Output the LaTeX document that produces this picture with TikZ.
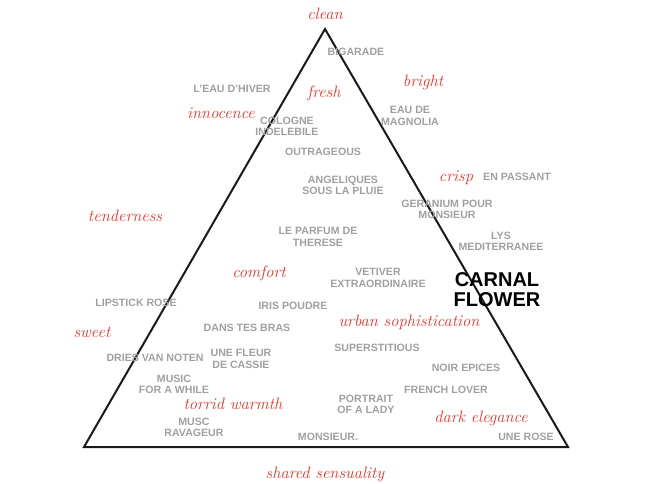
\documentclass[tikz,border=0pt]{standalone}
\usepackage{fontspec}
\newfontfamily\grot{Liberation Sans}
\definecolor{wordred}{RGB}{232,52,42}
\definecolor{wordgrey}{RGB}{160,160,160}
\tikzset{
  perfume/.style={inner sep=0pt, align=center, text=wordgrey,
    font=\grot\bfseries\fontsize{10.6}{11.2}\selectfont},
  mood/.style={inner sep=0pt, anchor=base, text=wordred,
    font=\itshape\fontsize{16.5}{18}\selectfont},
  hero/.style={inner sep=0pt, align=center, text=black,
    font=\grot\bfseries\fontsize{20}{20}\selectfont},
  edge/.style={line width=2pt, line join=miter, draw=black!90}
}
\begin{document}
\begin{tikzpicture}[x=1pt,y=-1pt]
\useasboundingbox (0,0) rectangle (650,484);
\coordinate (top) at (325,29);
\coordinate (bl) at (84,447);
\coordinate (br) at (568,447);
\draw[edge] (top) -- (bl) -- (br) -- cycle;

% mood words
\node[mood] (clean) at (325,20) {clean};
\node[mood] (fresh) at (324,98) {fresh};
\node[mood] (bright) at (423,87) {bright};
\node[mood] (innocence) at (221,119) {innocence};
\node[mood] (crisp) at (456,181) {crisp};
\node[mood] (tenderness) at (125,221) {tenderness};
\node[mood] (comfort) at (259,277) {comfort};
\node[mood] (sweet) at (92,337) {sweet};
\node[mood] (urban) at (409,326) {urban sophistication};
\node[mood] (torrid) at (233,409) {torrid warmth};
\node[mood] (dark) at (481,422) {dark elegance};
\node[mood] (shared) at (325,478) {shared sensuality};

% perfumes
\node[perfume] (bigarade) at (356,52) {BIGARADE};
\node[perfume] (eauhiver) at (232,89) {L’EAU D’HIVER};
\node[perfume] (cologne) at (287,126) {COLOGNE\\INDELEBILE};
\node[perfume] (magnolia) at (410,116) {EAU DE\\MAGNOLIA};
\node[perfume] (outrageous) at (323,152) {OUTRAGEOUS};
\node[perfume] (angeliques) at (343,185) {ANGELIQUES\\SOUS LA PLUIE};
\node[perfume] (enpassant) at (517,177) {EN PASSANT};
\node[perfume] (geranium) at (447,209) {GERANIUM POUR\\MONSIEUR};
\node[perfume] (parfum) at (318,237) {LE PARFUM DE\\THERESE};
\node[perfume] (lys) at (501,241) {LYS\\MEDITERRANEE};
\node[perfume] (vetiver) at (378,278) {VETIVER\\EXTRAORDINAIRE};
\node[hero] (carnal) at (497,290) {CARNAL\\FLOWER};
\node[perfume] (lipstick) at (136,303) {LIPSTICK ROSE};
\node[perfume] (iris) at (293,306) {IRIS POUDRE};
\node[perfume] (dans) at (247,328) {DANS TES BRAS};
\node[perfume] (superstitious) at (377,348) {SUPERSTITIOUS};
\node[perfume] (dries) at (155,358) {DRIES VAN NOTEN};
\node[perfume] (fleur) at (241,359) {UNE FLEUR\\DE CASSIE};
\node[perfume] (noir) at (466,368) {NOIR EPICES};
\node[perfume] (music) at (174,384) {MUSIC\\FOR A WHILE};
\node[perfume] (french) at (446,390) {FRENCH LOVER};
\node[perfume] (portrait) at (366,404) {PORTRAIT\\OF A LADY};
\node[perfume] (musc) at (194,427) {MUSC\\RAVAGEUR};
\node[perfume] (monsieur) at (328,437) {MONSIEUR.};
\node[perfume] (unerose) at (526,437) {UNE ROSE};
\end{tikzpicture}
\end{document}
